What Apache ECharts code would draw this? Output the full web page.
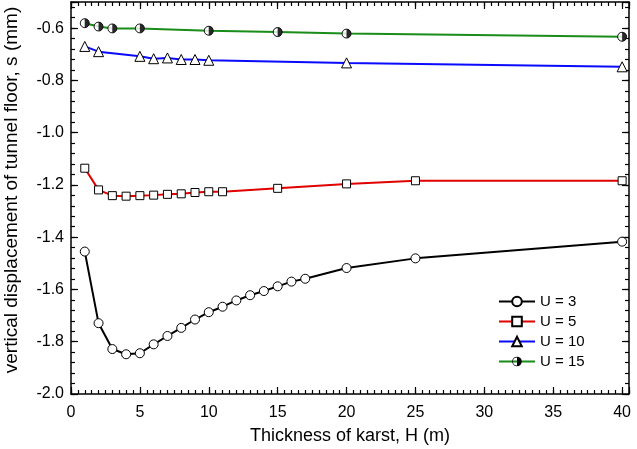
<!DOCTYPE html>
<html><head><meta charset="utf-8">
<script src="https://cdn.jsdelivr.net/npm/echarts@6/dist/echarts.min.js"></script>
<style>html,body{margin:0;padding:0;background:#fff}#c{width:637px;height:449px}</style>
</head><body><div id="c"></div>
<script>
// ---- data ----
const seriesNames = ['U = 3', 'U = 5', 'U = 10', 'U = 15'];
const u3X = [1,2,3,4,5,6,7,8,9,10,11,12,13,14,15,16,17,20,25,40];
const u3Y = [-1.455,-1.729,-1.828,-1.848,-1.844,-1.810,-1.778,-1.747,-1.715,-1.687,-1.666,-1.642,-1.622,-1.606,-1.588,-1.570,-1.559,-1.518,-1.481,-1.417];
const u5X = [1,2,3,4,5,6,7,8,9,10,11,15,20,25,40];
const u5Y = [-1.136,-1.219,-1.241,-1.243,-1.241,-1.239,-1.236,-1.234,-1.229,-1.226,-1.226,-1.213,-1.196,-1.184,-1.184];
const u10X = [1,2,5,6,7,8,9,10,20,40];
const u10Y = [-0.670,-0.690,-0.708,-0.717,-0.714,-0.720,-0.720,-0.723,-0.733,-0.748];
const u15X = [1,2,3,5,10,15,20,40];
const u15Y = [-0.581,-0.594,-0.601,-0.601,-0.610,-0.615,-0.621,-0.633];
const xTickLabels = [0,5,10,15,20,25,30,35,40];
const yTickLabels = [-2.0,-1.8,-1.6,-1.4,-1.2,-1.0,-0.8,-0.6];

const FONT = '"Liberation Sans", Arial, sans-serif';
const zip = (xs, ys) => xs.map((x, i) => [x, ys[i]]);
const ringHalf = 'path://M10,0 A10,10 0 1,1 10,20 A10,10 0 1,1 10,0 Z M10,1.6 A8.4,8.4 0 1,0 10,18.4 A8.4,8.4 0 1,0 10,1.6 Z M10,1.6 A8.4,8.4 0 0,1 10,18.4 Z';
const halfDisc = 'path://M0,0 A10,10 0 0,1 0,20 Z';

const gridRect = {left: 71, right: 8, top: 2, bottom: 55, containLabel: false, outerBoundsMode: 'none'};
const X_MIN = 0, X_MAX = 40.5, Y_MIN = -2.0, Y_MAX = -0.5;

function xAx(grid, pos, interval, major, extra) {
  return Object.assign({
    type: 'value', gridIndex: grid, position: pos, min: X_MIN, max: X_MAX, interval: interval,
    axisLine: {show: major, onZero: false, lineStyle: {color: '#000', width: 1.5}},
    axisTick: {show: true, inside: true, length: major ? 7 : 4, lineStyle: {color: '#000', width: 1.2}},
    axisLabel: {show: false}, splitLine: {show: false}
  }, extra || {});
}
function yAx(grid, pos, interval, major, extra) {
  return Object.assign({
    type: 'value', gridIndex: grid, position: pos, min: Y_MIN, max: Y_MAX, interval: interval,
    axisLine: {show: major, onZero: false, lineStyle: {color: '#000', width: 1.5}},
    axisTick: {show: true, inside: true, length: major ? 7 : 4, lineStyle: {color: '#000', width: 1.2}},
    axisLabel: {show: false}, splitLine: {show: false}
  }, extra || {});
}

const baseItem = {color: '#fff', borderColor: '#000', borderWidth: 1};
function lineSeries(name, xs, ys, color, symbol, size, z, itemStyle) {
  return {
    name: name, type: 'line', xAxisIndex: 0, yAxisIndex: 0, data: zip(xs, ys),
    symbol: symbol, symbolSize: size, showSymbol: true, z: z,
    lineStyle: {color: color, width: 2},
    itemStyle: itemStyle || baseItem,
    emphasis: {disabled: true}, silent: true
  };
}

const option = {
  animation: false,
  backgroundColor: '#fff',
  grid: [Object.assign({}, gridRect), Object.assign({}, gridRect)],
  xAxis: [
    xAx(0, 'bottom', 5, true, {
      axisLabel: {show: true, color: '#000', fontSize: 16, fontFamily: FONT, margin: 11,
        formatter: v => xTickLabels.indexOf(v) >= 0 ? String(v) : ''},
      name: 'Thickness of karst, H (m)', nameLocation: 'middle', nameGap: 33,
      nameTextStyle: {color: '#000', fontSize: 18, fontFamily: FONT}
    }),
    xAx(0, 'top', 5, true),
    xAx(1, 'bottom', 0.5, false),
    xAx(1, 'top', 0.5, false)
  ],
  yAxis: [
    yAx(0, 'left', 0.2, true, {
      axisLabel: {show: true, color: '#000', fontSize: 16, fontFamily: FONT, margin: 7,
        formatter: v => yTickLabels.some(t => Math.abs(t - v) < 1e-6) ? v.toFixed(1) : ''},
      name: 'vertical displacement of tunnel floor, s (mm)', nameLocation: 'middle', nameGap: 50,
      nameTextStyle: {color: '#000', fontSize: 19, fontFamily: FONT, padding: [0, 0, 0, 16]}
    }),
    yAx(0, 'right', 0.2, true),
    yAx(1, 'left', 0.04, false),
    yAx(1, 'right', 0.04, false)
  ],
  legend: {
    data: seriesNames, orient: 'vertical', left: 493, top: 289,
    itemWidth: 36, itemHeight: 12, itemGap: 5,
    textStyle: {color: '#000', fontSize: 15, fontFamily: FONT},
    selectedMode: false
  },
  series: [
    lineSeries(seriesNames[0], u3X, u3Y, '#000000', 'circle', 9, 5),
    lineSeries(seriesNames[1], u5X, u5Y, '#e00000', 'rect', 8, 5),
    lineSeries(seriesNames[2], u10X, u10Y, '#0a0aff', 'triangle', 10, 5),
    lineSeries(seriesNames[3], u15X, u15Y, '#1a8c1a', ringHalf, 9, 5, {color: '#000', borderWidth: 0}),
    {name: 'u15-face', type: 'scatter', xAxisIndex: 0, yAxisIndex: 0, data: zip(u15X, u15Y),
      symbol: 'circle', symbolSize: 9, z: 6, itemStyle: baseItem, silent: true},
    {name: 'u15-half', type: 'scatter', xAxisIndex: 0, yAxisIndex: 0, data: zip(u15X, u15Y),
      symbol: halfDisc, symbolSize: [4.5, 9], symbolOffset: [2.25, 0], z: 7,
      itemStyle: {color: '#000'}, silent: true}
  ]
};
const chart = echarts.init(document.getElementById('c'), null, {renderer: 'canvas'});
chart.setOption(option);
</script>
</body></html>
